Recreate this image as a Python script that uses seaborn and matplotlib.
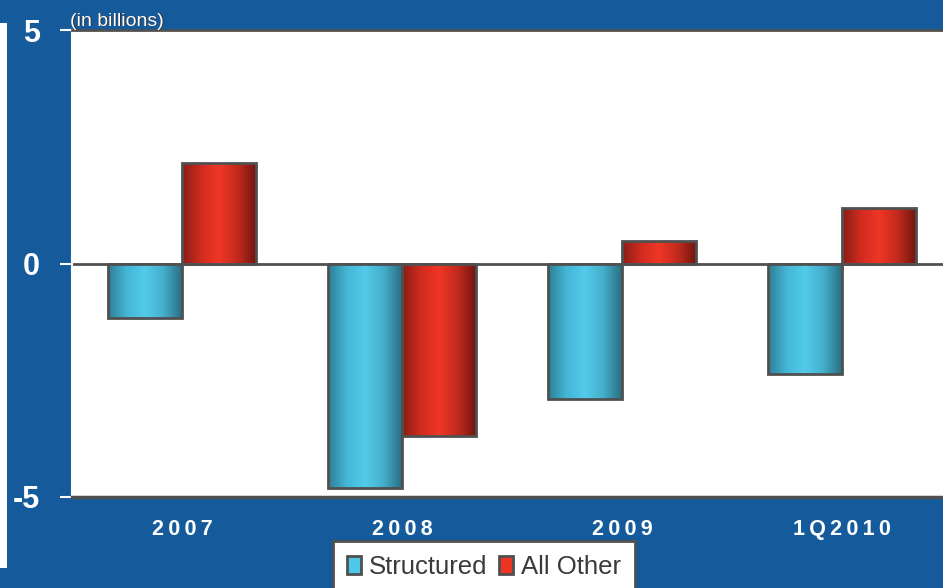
import numpy as np
import pandas as pd
import matplotlib
matplotlib.use('Agg')
import matplotlib.pyplot as plt
from matplotlib.colors import LinearSegmentedColormap
from matplotlib.patches import Rectangle
import seaborn as sns

# --------- DATA ----------
periods = ["2007", "2008", "2009", "1Q2010"]
structured = [-1.16, -4.8, -2.9, -2.37]
all_other = [2.15, -3.7, 0.49, 1.19]
series_names = ["Structured", "All Other"]
y_ticks = [-5, 0, 5]

df = pd.DataFrame({
    "period": periods * 2,
    "value": structured + all_other,
    "series": [series_names[0]] * len(periods) + [series_names[1]] * len(periods),
})

# --------- STYLE ----------
sns.set_style("white")
plt.rcParams['font.family'] = ['Liberation Sans', 'DejaVu Sans']

bg = "#155b9c"
edge = "#505050"
palette = {"Structured": "#4ec8e8", "All Other": "#ee3524"}
grad = {
    "Structured": LinearSegmentedColormap.from_list(
        "cy", ["#2d7f96", "#45b6d6", "#52cbea", "#45afcc", "#2a6f84"]),
    "All Other": LinearSegmentedColormap.from_list(
        "rd", ["#8a1d16", "#d02b1f", "#ef3625", "#c42a1e", "#74160f"]),
}

fig = plt.figure(figsize=(9.43, 5.88), dpi=100, facecolor=bg)
fig.patches.append(Rectangle((0, 20 / 588), 7 / 943, 545 / 588, transform=fig.transFigure,
                             facecolor="white", edgecolor="none", zorder=0))
ax = fig.add_axes([72 / 943, 91 / 588, 871 / 943, 467 / 588])
ax.set_facecolor("white")

sns.barplot(data=df, x="period", y="value", hue="series", order=periods,
            hue_order=series_names, palette=palette, width=0.67,
            edgecolor=edge, linewidth=2, saturation=1, ax=ax, legend=False,
            zorder=3)

# gradient fill clipped to each bar
for container, name in zip(ax.containers, series_names):
    for bar in container:
        x0, y0 = bar.get_x(), bar.get_y()
        w, h = bar.get_width(), bar.get_height()
        im = ax.imshow(np.linspace(0, 1, 100).reshape(1, -1), cmap=grad[name],
                       extent=[x0, x0 + w, min(y0, y0 + h), max(y0, y0 + h)],
                       aspect="auto", zorder=3.5, interpolation="bicubic")
        im.set_clip_path(bar)
        bar.set_zorder(4)
        bar.set_facecolor("none")

ax.axhline(0, color=edge, lw=2, zorder=2)
ax.set_xlim(-0.5, 3.46)
ax.set_ylim(-5, 5)
ax.set_yticks(y_ticks)
ax.set_yticklabels([str(t) for t in y_ticks], fontsize=22, fontweight="bold", color="white")
ax.set_xticks(range(len(periods)))
# spread the year labels a little, like the original
spaced = ["\u2009".join(p) for p in periods]
ax.set_xticklabels(spaced, fontsize=15.5, fontweight="bold", color="white")
ax.tick_params(axis="y", length=9, width=1.5, color="white", pad=14, left=True)
ax.tick_params(axis="x", length=0, pad=16)
ax.set_xlabel("")
ax.set_ylabel("")

ax.spines["right"].set_visible(False)
ax.spines["left"].set_color("white")
ax.spines["left"].set_linewidth(1.5)
ax.spines["top"].set_color(edge)
ax.spines["top"].set_linewidth(2)
ax.spines["bottom"].set_color(edge)
ax.spines["bottom"].set_linewidth(2.5)

fig.text(71 / 943, 1 - 22 / 588, "(in billions)", color="#333333", fontsize=14,
         ha="left", va="center")
fig.text(70 / 943, 1 - 21 / 588, "(in billions)", color="white", fontsize=14,
         ha="left", va="center")

handles = [Rectangle((0, 0), 1, 1, facecolor=palette[n], edgecolor=edge, lw=2)
           for n in series_names]
leg = fig.legend(handles, series_names, loc="upper center",
                 bbox_to_anchor=(484 / 943, 1 - 541 / 588), ncol=2, fontsize=18.5,
                 frameon=True, fancybox=False, framealpha=1, facecolor="white",
                 handlelength=0.55, handleheight=0.7,
                 handletextpad=0.3, columnspacing=0.45, borderpad=0.55,
                 borderaxespad=0)
leg.get_frame().set_edgecolor(edge)
leg.get_frame().set_linewidth(2)
for t in leg.get_texts():
    t.set_color("#3a3a3a")

fig.savefig("out.png", dpi=100, facecolor=bg)
